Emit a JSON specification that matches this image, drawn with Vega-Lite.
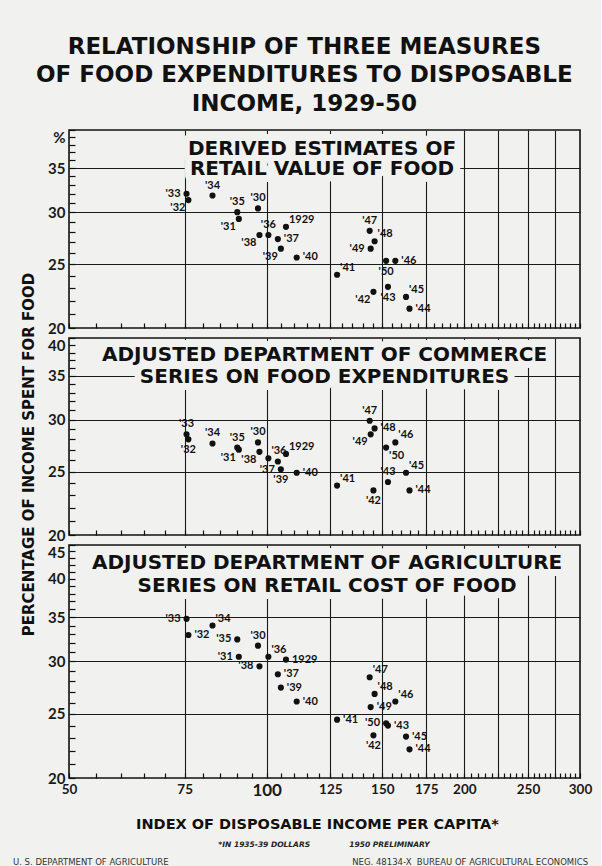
{
"$schema": "https://vega.github.io/schema/vega-lite/v6.json",
"background": "#f1f1ef",
"padding": {"left": 12, "top": 35, "right": 8, "bottom": 0},
"title": {"text": ["RELATIONSHIP OF THREE MEASURES", "OF FOOD EXPENDITURES TO DISPOSABLE", "INCOME, 1929-50"], "font": "DejaVu Sans", "fontSize": 23, "fontWeight": "bold", "lineHeight": 28.5, "anchor": "middle", "offset": 13, "dx": 2, "color": "#111"},
"datasets": {"food": [
{"series":"retail","year":1929,"label":"1929","income":107,"pct":28.5},
{"series":"retail","year":1930,"label":"'30","income":97,"pct":30.4},
{"series":"retail","year":1931,"label":"'31","income":90.7,"pct":29.3},
{"series":"retail","year":1932,"label":"'32","income":76,"pct":31.3},
{"series":"retail","year":1933,"label":"'33","income":75.5,"pct":32.0},
{"series":"retail","year":1934,"label":"'34","income":82.7,"pct":31.8},
{"series":"retail","year":1935,"label":"'35","income":90.2,"pct":30.0},
{"series":"retail","year":1936,"label":"'36","income":100.6,"pct":27.7},
{"series":"retail","year":1937,"label":"'37","income":104,"pct":27.3},
{"series":"retail","year":1938,"label":"'38","income":97.5,"pct":27.7},
{"series":"retail","year":1939,"label":"'39","income":105.1,"pct":26.4},
{"series":"retail","year":1940,"label":"'40","income":111.1,"pct":25.6},
{"series":"retail","year":1941,"label":"'41","income":128,"pct":24.1},
{"series":"retail","year":1942,"label":"'42","income":145.4,"pct":22.7},
{"series":"retail","year":1943,"label":"'43","income":153,"pct":23.1},
{"series":"retail","year":1944,"label":"'44","income":165,"pct":21.4},
{"series":"retail","year":1945,"label":"'45","income":163,"pct":22.3},
{"series":"retail","year":1946,"label":"'46","income":157,"pct":25.3},
{"series":"retail","year":1947,"label":"'47","income":143.5,"pct":28.1},
{"series":"retail","year":1948,"label":"'48","income":146,"pct":27.1},
{"series":"retail","year":1949,"label":"'49","income":144,"pct":26.4},
{"series":"retail","year":1950,"label":"'50","income":152,"pct":25.3},
{"series":"commerce","year":1929,"label":"1929","income":107,"pct":26.6},
{"series":"commerce","year":1930,"label":"'30","income":97,"pct":27.7},
{"series":"commerce","year":1931,"label":"'31","income":90.7,"pct":27.0},
{"series":"commerce","year":1932,"label":"'32","income":76,"pct":28.0},
{"series":"commerce","year":1933,"label":"'33","income":75.5,"pct":28.5},
{"series":"commerce","year":1934,"label":"'34","income":82.7,"pct":27.6},
{"series":"commerce","year":1935,"label":"'35","income":90.2,"pct":27.2},
{"series":"commerce","year":1936,"label":"'36","income":100.6,"pct":26.2},
{"series":"commerce","year":1937,"label":"'37","income":104,"pct":25.9},
{"series":"commerce","year":1938,"label":"'38","income":97.5,"pct":26.8},
{"series":"commerce","year":1939,"label":"'39","income":105.1,"pct":25.2},
{"series":"commerce","year":1940,"label":"'40","income":111.1,"pct":24.9},
{"series":"commerce","year":1941,"label":"'41","income":128,"pct":23.8},
{"series":"commerce","year":1942,"label":"'42","income":145.4,"pct":23.4},
{"series":"commerce","year":1943,"label":"'43","income":153,"pct":24.1},
{"series":"commerce","year":1944,"label":"'44","income":165,"pct":23.4},
{"series":"commerce","year":1945,"label":"'45","income":163,"pct":24.9},
{"series":"commerce","year":1946,"label":"'46","income":157,"pct":27.7},
{"series":"commerce","year":1947,"label":"'47","income":143.5,"pct":29.9},
{"series":"commerce","year":1948,"label":"'48","income":146,"pct":29.1},
{"series":"commerce","year":1949,"label":"'49","income":144,"pct":28.5},
{"series":"commerce","year":1950,"label":"'50","income":152,"pct":27.2},
{"series":"agriculture","year":1929,"label":"1929","income":107,"pct":30.2},
{"series":"agriculture","year":1930,"label":"'30","income":97,"pct":31.7},
{"series":"agriculture","year":1931,"label":"'31","income":90.7,"pct":30.5},
{"series":"agriculture","year":1932,"label":"'32","income":76,"pct":32.9},
{"series":"agriculture","year":1933,"label":"'33","income":75.5,"pct":34.8},
{"series":"agriculture","year":1934,"label":"'34","income":82.7,"pct":34.0},
{"series":"agriculture","year":1935,"label":"'35","income":90.2,"pct":32.4},
{"series":"agriculture","year":1936,"label":"'36","income":100.6,"pct":30.5},
{"series":"agriculture","year":1937,"label":"'37","income":104,"pct":28.7},
{"series":"agriculture","year":1938,"label":"'38","income":97.5,"pct":29.5},
{"series":"agriculture","year":1939,"label":"'39","income":105.1,"pct":27.4},
{"series":"agriculture","year":1940,"label":"'40","income":111.1,"pct":26.1},
{"series":"agriculture","year":1941,"label":"'41","income":128,"pct":24.5},
{"series":"agriculture","year":1942,"label":"'42","income":145.4,"pct":23.2},
{"series":"agriculture","year":1943,"label":"'43","income":153,"pct":24.0},
{"series":"agriculture","year":1944,"label":"'44","income":165,"pct":22.1},
{"series":"agriculture","year":1945,"label":"'45","income":163,"pct":23.1},
{"series":"agriculture","year":1946,"label":"'46","income":157,"pct":26.1},
{"series":"agriculture","year":1947,"label":"'47","income":143.5,"pct":28.4},
{"series":"agriculture","year":1948,"label":"'48","income":146,"pct":26.8},
{"series":"agriculture","year":1949,"label":"'49","income":144,"pct":25.6},
{"series":"agriculture","year":1950,"label":"'50","income":152,"pct":24.2}
]},
"data": {"name": "food"},
"bounds": "flush",
"spacing": 10,
"vconcat": [
{
"width": 511, "height": 198,
"transform": [{"filter": {"field": "series", "equal": "retail"}}],
"encoding": {
"x": {"field": "income", "type": "quantitative", "scale": {"type": "log", "domain": [50, 300], "nice": false},
 "axis": {"values": [50,55,60,65,70,75,80,85,90,95,100,105,110,115,120,125,130,135,140,145,150,155,160,165,170,175,180,185,190,195,200,205,210,215,220,225,230,235,240,245,250,255,260,265,270,275,280,285,290,295,300], "labels": false, "title": null, "tickSize": -5, "grid": true, "gridOpacity": {"condition": {"test": "datum.value % 25 == 0 && datum.value > 50 && datum.value < 300", "value": 1}, "value": 0}}},
"y": {"field": "pct", "type": "quantitative", "scale": {"type": "log", "domain": [20, 40], "nice": false},
 "axis": {"values": [20,21,22,23,24,25,26,27,28,29,30,31,32,33,34,35,36,37,38,39,40], "labelExpr": "datum.value == 40 ? '%' : (datum.value % 5 == 0 ? format(datum.value, 'd') : '')", "labelBaseline": {"condition": {"test": "datum.value == 40", "value": "top"}, "value": "middle"}, "tickSize": -6, "labelPadding": 10, "title": null, "grid": true, "gridOpacity": {"condition": {"test": "datum.value == 25 || datum.value == 30 || datum.value == 35", "value": 1}, "value": 0}}}
},
"layer": [
{"transform": [{"filter": {"field": "year", "equal": 1929}}], "mark": {"type": "text", "text": ["DERIVED ESTIMATES OF", "RETAIL VALUE OF FOOD"], "font": "DejaVu Sans", "fontSize": 20, "lineHeight": 20, "align": "center", "baseline": "middle", "fill": "#f1f1ef", "stroke": "#f1f1ef", "strokeWidth": 14, "strokeJoin": "round"}, "encoding": {"x": {"datum": 121.4}, "y": {"datum": 37.45}}},
{"transform": [{"filter": {"field": "year", "equal": 1929}}], "mark": {"type": "text", "text": ["DERIVED ESTIMATES OF", "RETAIL VALUE OF FOOD"], "font": "DejaVu Sans", "fontSize": 20, "lineHeight": 20, "align": "center", "baseline": "middle"}, "encoding": {"x": {"datum": 121.4}, "y": {"datum": 37.45}}},
{"mark": {"type": "circle", "size": 38, "color": "#111", "opacity": 1}},
{"transform": [{"filter": {"field": "year", "oneOf": [1933, 1949]}}], "mark": {"type": "text", "align": "right", "baseline": "middle", "dx": -6}, "encoding": {"text": {"field": "label"}}},
{"transform": [{"filter": {"field": "year", "oneOf": [1931, 1932, 1938, 1939, 1942]}}], "mark": {"type": "text", "align": "right", "baseline": "top", "dx": -3, "dy": 2}, "encoding": {"text": {"field": "label"}}},
{"transform": [{"filter": {"field": "year", "oneOf": [1930, 1934, 1935, 1936, 1947]}}], "mark": {"type": "text", "align": "center", "baseline": "bottom", "dy": -5}, "encoding": {"text": {"field": "label"}}},
{"transform": [{"filter": {"field": "year", "oneOf": [1929, 1941, 1945, 1948]}}], "mark": {"type": "text", "align": "left", "baseline": "bottom", "dx": 3, "dy": -2}, "encoding": {"text": {"field": "label"}}},
{"transform": [{"filter": {"field": "year", "oneOf": [1937, 1940, 1944, 1946]}}], "mark": {"type": "text", "align": "left", "baseline": "middle", "dx": 6}, "encoding": {"text": {"field": "label"}}},
{"transform": [{"filter": {"field": "year", "oneOf": [1943, 1950]}}], "mark": {"type": "text", "align": "center", "baseline": "top", "dy": 5}, "encoding": {"text": {"field": "label"}}}
]
},
{
"width": 511, "height": 197,
"transform": [{"filter": {"field": "series", "equal": "commerce"}}],
"encoding": {
"x": {"field": "income", "type": "quantitative", "scale": {"type": "log", "domain": [50, 300], "nice": false},
 "axis": {"values": [50,55,60,65,70,75,80,85,90,95,100,105,110,115,120,125,130,135,140,145,150,155,160,165,170,175,180,185,190,195,200,205,210,215,220,225,230,235,240,245,250,255,260,265,270,275,280,285,290,295,300], "labels": false, "title": null, "tickSize": -5, "grid": true, "gridOpacity": {"condition": {"test": "datum.value % 25 == 0 && datum.value > 50 && datum.value < 300", "value": 1}, "value": 0}}},
"y": {"field": "pct", "type": "quantitative", "scale": {"type": "log", "domain": [20, 40], "nice": false},
 "axis": {"values": [20,21,22,23,24,25,26,27,28,29,30,31,32,33,34,35,36,37,38,39,40], "labelExpr": "datum.value % 5 == 0 ? format(datum.value, 'd') : ''", "labelBaseline": {"condition": {"test": "datum.value == 40", "value": "top"}, "value": "middle"}, "tickSize": -6, "labelPadding": 10, "title": "PERCENTAGE OF INCOME SPENT FOR FOOD", "titleFont": "DejaVu Sans", "titleFontSize": 15, "titleX": -33, "titleY": 116, "grid": true, "gridOpacity": {"condition": {"test": "datum.value == 25 || datum.value == 30 || datum.value == 35", "value": 1}, "value": 0}}}
},
"layer": [
{"transform": [{"filter": {"field": "year", "equal": 1929}}], "mark": {"type": "text", "text": ["ADJUSTED DEPARTMENT OF COMMERCE", "SERIES ON FOOD EXPENDITURES"], "font": "DejaVu Sans", "fontSize": 20, "lineHeight": 22, "align": "center", "baseline": "middle", "fill": "#f1f1ef", "stroke": "#f1f1ef", "strokeWidth": 14, "strokeJoin": "round"}, "encoding": {"x": {"datum": 122.5}, "y": {"datum": 37.64}}},
{"transform": [{"filter": {"field": "year", "equal": 1929}}], "mark": {"type": "text", "text": ["ADJUSTED DEPARTMENT OF COMMERCE", "SERIES ON FOOD EXPENDITURES"], "font": "DejaVu Sans", "fontSize": 20, "lineHeight": 22, "align": "center", "baseline": "middle"}, "encoding": {"x": {"datum": 122.5}, "y": {"datum": 37.64}}},
{"mark": {"type": "circle", "size": 38, "color": "#111", "opacity": 1}},
{"transform": [{"filter": {"field": "year", "oneOf": [1930, 1933, 1934, 1935, 1943, 1947]}}], "mark": {"type": "text", "align": "center", "baseline": "bottom", "dy": -5}, "encoding": {"text": {"field": "label"}}},
{"transform": [{"filter": {"field": "year", "oneOf": [1932, 1939, 1942]}}], "mark": {"type": "text", "align": "center", "baseline": "top", "dy": 5}, "encoding": {"text": {"field": "label"}}},
{"transform": [{"filter": {"field": "year", "oneOf": [1931, 1937, 1938, 1949]}}], "mark": {"type": "text", "align": "right", "baseline": "top", "dx": -3, "dy": 2}, "encoding": {"text": {"field": "label"}}},
{"transform": [{"filter": {"field": "year", "oneOf": [1929, 1936, 1941, 1945, 1946]}}], "mark": {"type": "text", "align": "left", "baseline": "bottom", "dx": 3, "dy": -2}, "encoding": {"text": {"field": "label"}}},
{"transform": [{"filter": {"field": "year", "oneOf": [1940, 1944, 1948]}}], "mark": {"type": "text", "align": "left", "baseline": "middle", "dx": 6}, "encoding": {"text": {"field": "label"}}},
{"transform": [{"filter": {"field": "year", "oneOf": [1950]}}], "mark": {"type": "text", "align": "left", "baseline": "top", "dx": 3, "dy": 2}, "encoding": {"text": {"field": "label"}}}
]
},
{
"width": 511, "height": 233,
"transform": [{"filter": {"field": "series", "equal": "agriculture"}}],
"title": {"text": "\u2800\u2800\u2800\u2800\u2800\u2800\u2800\u2800*IN 1935-39 DOLLARS\u00a0\u00a0\u00a0\u00a0\u00a0\u00a0\u00a0\u00a0\u00a0\u00a0\u00a0\u00a0\u00a0\u00a0\u00a01950 PRELIMINARY", "orient": "bottom", "anchor": "middle", "frame": "group", "dx": -24, "font": "DejaVu Sans", "fontSize": 7.5, "fontStyle": "italic", "fontWeight": "bold", "color": "#222", "offset": 10, "subtitle": "U. S. DEPARTMENT OF AGRICULTURE\u00a0\u00a0\u00a0\u00a0\u00a0\u00a0\u00a0\u00a0\u00a0\u00a0\u00a0\u00a0\u00a0\u00a0\u00a0\u00a0\u00a0\u00a0\u00a0\u00a0\u00a0\u00a0\u00a0\u00a0\u00a0\u00a0\u00a0\u00a0\u00a0\u00a0\u00a0\u00a0\u00a0\u00a0\u00a0\u00a0\u00a0\u00a0\u00a0\u00a0\u00a0\u00a0\u00a0\u00a0\u00a0\u00a0\u00a0\u00a0\u00a0\u00a0\u00a0\u00a0\u00a0\u00a0\u00a0\u00a0\u00a0\u00a0\u00a0\u00a0\u00a0\u00a0\u00a0\u00a0\u00a0\u00a0\u00a0\u00a0NEG. 48134-X\u00a0\u00a0BUREAU OF AGRICULTURAL ECONOMICS", "subtitleFont": "DejaVu Sans", "subtitleFontSize": 8.5, "subtitleColor": "#333", "subtitlePadding": 10},
"encoding": {
"x": {"field": "income", "type": "quantitative", "scale": {"type": "log", "domain": [50, 300], "nice": false},
 "axis": {"values": [50,55,60,65,70,75,80,85,90,95,100,105,110,115,120,125,130,135,140,145,150,155,160,165,170,175,180,185,190,195,200,205,210,215,220,225,230,235,240,245,250,255,260,265,270,275,280,285,290,295,300], "labelExpr": "indexof([50,75,100,125,150,175,200,250,300], datum.value) >= 0 ? format(datum.value, 'd') : ''", "labelFlush": false, "labelFontSize": {"condition": {"test": "datum.value == 100", "value": 17}, "value": 13.5}, "labelPadding": 9, "title": "INDEX OF DISPOSABLE INCOME PER CAPITA*", "titleFont": "DejaVu Sans", "titleFontSize": 14.5, "titlePadding": 19, "titleX": 248, "tickSize": -5, "grid": true, "gridOpacity": {"condition": {"test": "datum.value % 25 == 0 && datum.value > 50 && datum.value < 300", "value": 1}, "value": 0}}},
"y": {"field": "pct", "type": "quantitative", "scale": {"type": "log", "domain": [20, 45], "nice": false},
 "axis": {"values": [20,21,22,23,24,25,26,27,28,29,30,31,32,33,34,35,36,37,38,39,40,41,42,43,44,45], "labelExpr": "datum.value % 5 == 0 ? format(datum.value, 'd') : ''", "labelBaseline": {"condition": {"test": "datum.value == 45", "value": "top"}, "value": "middle"}, "tickSize": -6, "labelPadding": 10, "title": null, "grid": true, "gridOpacity": {"condition": {"test": "datum.value == 25 || datum.value == 30 || datum.value == 35", "value": 1}, "value": 0}}}
},
"layer": [
{"transform": [{"filter": {"field": "year", "equal": 1929}}], "mark": {"type": "text", "text": ["ADJUSTED DEPARTMENT OF AGRICULTURE", "SERIES ON RETAIL COST OF FOOD"], "font": "DejaVu Sans", "fontSize": 20, "lineHeight": 22.4, "align": "center", "baseline": "middle", "fill": "#f1f1ef", "stroke": "#f1f1ef", "strokeWidth": 14, "strokeJoin": "round"}, "encoding": {"x": {"datum": 123.6}, "y": {"datum": 42.24}}},
{"transform": [{"filter": {"field": "year", "equal": 1929}}], "mark": {"type": "text", "text": ["ADJUSTED DEPARTMENT OF AGRICULTURE", "SERIES ON RETAIL COST OF FOOD"], "font": "DejaVu Sans", "fontSize": 20, "lineHeight": 22.4, "align": "center", "baseline": "middle"}, "encoding": {"x": {"datum": 123.6}, "y": {"datum": 42.24}}},
{"mark": {"type": "circle", "size": 38, "color": "#111", "opacity": 1}},
{"transform": [{"filter": {"field": "year", "oneOf": [1931, 1933, 1935, 1938, 1950]}}], "mark": {"type": "text", "align": "right", "baseline": "middle", "dx": -6}, "encoding": {"text": {"field": "label"}}},
{"transform": [{"filter": {"field": "year", "oneOf": [1934, 1936, 1946, 1947, 1948]}}], "mark": {"type": "text", "align": "left", "baseline": "bottom", "dx": 3, "dy": -2}, "encoding": {"text": {"field": "label"}}},
{"transform": [{"filter": {"field": "year", "oneOf": [1929, 1932, 1937, 1939, 1940, 1941, 1943, 1944, 1945, 1949]}}], "mark": {"type": "text", "align": "left", "baseline": "middle", "dx": 6}, "encoding": {"text": {"field": "label"}}},
{"transform": [{"filter": {"field": "year", "oneOf": [1930]}}], "mark": {"type": "text", "align": "center", "baseline": "bottom", "dy": -5}, "encoding": {"text": {"field": "label"}}},
{"transform": [{"filter": {"field": "year", "oneOf": [1942]}}], "mark": {"type": "text", "align": "center", "baseline": "top", "dy": 5}, "encoding": {"text": {"field": "label"}}}
]
}
],
"config": {
"font": "Lato",
"view": {"stroke": "#111", "strokeWidth": 1.6},
"text": {"font": "Lato", "fontSize": 11, "fontWeight": "bold", "color": "#111"},
"axis": {"domain": false, "tickColor": "#111", "tickWidth": 1.2, "gridColor": "#1a1a1a", "gridWidth": 1.1, "labelFont": "Lato", "labelFontWeight": "bold", "labelColor": "#1a1a1a", "labelFontSize": 15, "labelOverlap": false, "titleFont": "Lato", "titleFontWeight": "bold", "titleColor": "#111"}
}
}
